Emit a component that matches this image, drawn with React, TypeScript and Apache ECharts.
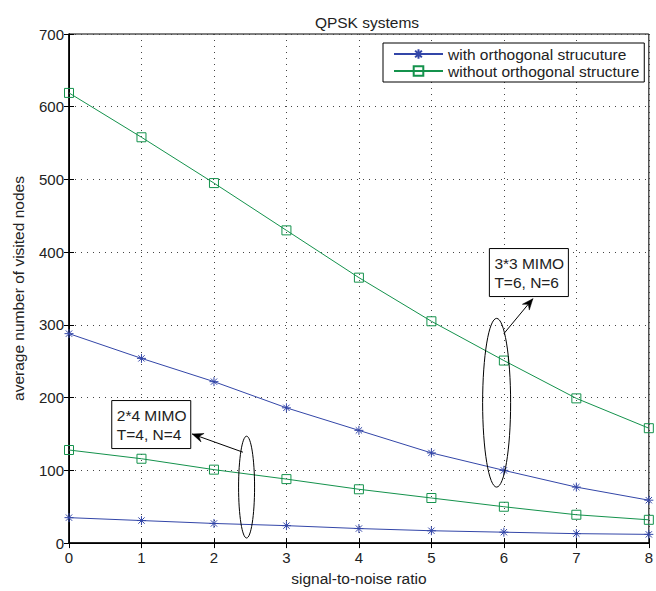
import React, { useEffect, useRef } from "react";
import * as echarts from "echarts";

const snr = [0, 1, 2, 3, 4, 5, 6, 7, 8];
const withOrth33 = [288, 254, 222, 186, 155, 124, 100, 77, 59];
const withoutOrth33 = [619, 558, 495, 430, 365, 305, 251, 199, 158];
const withOrth24 = [35, 31, 27, 24, 20, 17, 15, 13, 12];
const withoutOrth24 = [128, 116, 101, 88, 74, 62, 50, 39, 32];
const seriesNames = ["with orthogonal strucuture", "without orthogonal structure"];
const yTicks = [0, 100, 200, 300, 400, 500, 600, 700];

const BLUE = "#3346a8";
const GREEN = "#14924c";
const FONT = "Liberation Sans";
const STAR = "path://M5,0 L5,10 M0,5 L10,5 M1.5,1.5 L8.5,8.5 M1.5,8.5 L8.5,1.5";

function pairs(ys: number[]) {
  return snr.map((x, i) => [x, ys[i]]);
}

function lineSeries(name: string, ys: number[], color: string, star: boolean) {
  return {
    type: "line",
    name,
    data: pairs(ys),
    symbol: star ? STAR : "rect",
    symbolSize: 9,
    showSymbol: true,
    lineStyle: { color, width: 1 },
    itemStyle: { color: star ? color : "rgba(255,255,255,0)", borderColor: color, borderWidth: 1 },
    emphasis: { disabled: true },
  };
}

function arrowHead(from: number[], to: number[]) {
  const dx = to[0] - from[0];
  const dy = to[1] - from[1];
  const len = Math.hypot(dx, dy);
  const ux = dx / len;
  const uy = dy / len;
  const L = 11;
  const W = 4.5;
  const bx = to[0] - ux * L;
  const by = to[1] - uy * L;
  const nx = to[0] - ux * L * 0.65;
  const ny = to[1] - uy * L * 0.65;
  return [
    [to[0], to[1]],
    [bx - uy * W, by + ux * W],
    [nx, ny],
    [bx + uy * W, by - ux * W],
  ];
}

export default function App() {
  const ref = useRef<HTMLDivElement>(null);
  useEffect(() => {
    if (!ref.current) return;
    const chart = echarts.init(ref.current, undefined, { renderer: "svg" });
    const gridLine = { show: true, lineStyle: { color: "#444", width: 1, type: [1, 5] } };
    const tick = { show: true, inside: true, length: 5, lineStyle: { color: "#000" } };
    chart.setOption({
      animation: false,
      backgroundColor: "#fff",
      textStyle: { fontFamily: FONT },
      title: {
        text: "QPSK systems",
        left: 362,
        top: 9,
        textAlign: "center",
        textStyle: { fontFamily: FONT, fontSize: 15.5, fontWeight: "normal", color: "#222" },
      },
      legend: {
        data: seriesNames,
        orient: "vertical",
        left: 383,
        top: 43,
        padding: [3, 5, 3, 10],
        itemGap: 1,
        itemWidth: 49,
        itemHeight: 12,
        borderColor: "#000",
        borderWidth: 1,
        backgroundColor: "#fff",
        textStyle: { fontFamily: FONT, fontSize: 15.5, color: "#222", padding: [0, 0, 0, 0] },
        selectedMode: false,
      },
      grid: { left: 69, right: 2, top: 34, bottom: 39, show: true, borderColor: "#000", borderWidth: 1 },
      xAxis: [
        {
          type: "value",
          min: 0,
          max: 8,
          interval: 1,
          position: "bottom",
          name: "signal-to-noise ratio",
          nameLocation: "middle",
          nameGap: 22,
          nameTextStyle: { fontFamily: FONT, fontSize: 15.5, color: "#222" },
          axisLine: { show: true, lineStyle: { color: "#000", width: 1.5 } },
          axisTick: tick,
          axisLabel: { fontFamily: FONT, fontSize: 15, color: "#222", margin: 7 },
          splitLine: gridLine,
        },
        {
          type: "value",
          min: 0,
          max: 8,
          interval: 1,
          position: "top",
          axisLine: { show: true, lineStyle: { color: "#000" } },
          axisTick: tick,
          axisLabel: { show: false },
          splitLine: { show: false },
        },
      ],
      yAxis: [
        {
          type: "value",
          min: 0,
          max: 700,
          interval: 100,
          position: "left",
          name: "average number of visited nodes",
          nameLocation: "middle",
          nameGap: 43,
          nameTextStyle: { fontFamily: FONT, fontSize: 15.5, color: "#222" },
          axisLine: { show: true, lineStyle: { color: "#000", width: 1.5 } },
          axisTick: tick,
          axisLabel: {
            fontFamily: FONT,
            fontSize: 15,
            color: "#222",
            margin: 5,
            formatter: (v: number) => (yTicks.includes(v) ? String(v) : ""),
          },
          splitLine: gridLine,
        },
        {
          type: "value",
          min: 0,
          max: 700,
          interval: 100,
          position: "right",
          axisLine: { show: true, lineStyle: { color: "#000" } },
          axisTick: tick,
          axisLabel: { show: false },
          splitLine: { show: false },
        },
      ],
      series: [
        lineSeries(seriesNames[0], withOrth33, BLUE, true),
        lineSeries(seriesNames[1], withoutOrth33, GREEN, false),
        lineSeries(seriesNames[0], withOrth24, BLUE, true),
        lineSeries(seriesNames[1], withoutOrth24, GREEN, false),
      ],
    });

    const px = (x: number, y: number) => chart.convertToPixel({ gridIndex: 0 }, [x, y]) as number[];

    // annotation 1: 2*4 MIMO
    const e1 = px(2.45, 77);
    const e1top = px(2.45, 147);
    const ry1 = e1[1] - e1top[1];
    const a1from = px(2.4, 125);
    const a1to = px(1.7, 150);
    const b1 = px(0.59, 196);
    // annotation 2: 3*3 MIMO
    const e2 = px(5.9, 193);
    const e2top = px(5.9, 309);
    const ry2 = e2[1] - e2top[1];
    const a2from = px(6.0, 288);
    const a2to = px(6.4, 336);
    const b2 = px(5.8, 405);

    const ann = (b: number[], l1: string, l2: string) => [
      {
        type: "rect",
        shape: { x: b[0], y: b[1], width: 79, height: 48 },
        style: { fill: "#fff", stroke: "#000", lineWidth: 1 },
        z: 100,
      },
      {
        type: "text",
        x: b[0] + 5,
        y: b[1] + 5,
        style: { text: l1 + "\n" + l2, font: `15.5px ${FONT}`, fill: "#222", lineHeight: 19 },
        z: 101,
      },
    ];

    chart.setOption({
      graphic: [
        {
          type: "ellipse",
          shape: { cx: e1[0], cy: e1[1], rx: 8, ry: ry1 },
          style: { fill: "none", stroke: "#000", lineWidth: 1 },
          z: 100,
        },
        {
          type: "line",
          shape: { x1: a1from[0], y1: a1from[1], x2: a1to[0], y2: a1to[1] },
          style: { stroke: "#000", lineWidth: 1 },
          z: 100,
        },
        {
          type: "polygon",
          shape: { points: arrowHead(a1from, a1to) },
          style: { fill: "#000", stroke: "#000", lineWidth: 0.5 },
          z: 100,
        },
        ...ann(b1, "2*4 MIMO", "T=4, N=4"),
        {
          type: "ellipse",
          shape: { cx: e2[0], cy: e2[1], rx: 14, ry: ry2 },
          style: { fill: "none", stroke: "#000", lineWidth: 1 },
          z: 100,
        },
        {
          type: "line",
          shape: { x1: a2from[0], y1: a2from[1], x2: a2to[0], y2: a2to[1] },
          style: { stroke: "#000", lineWidth: 1 },
          z: 100,
        },
        {
          type: "polygon",
          shape: { points: arrowHead(a2from, a2to) },
          style: { fill: "#000", stroke: "#000", lineWidth: 0.5 },
          z: 100,
        },
        ...ann(b2, "3*3 MIMO", "T=6, N=6"),
      ],
    });

    return () => chart.dispose();
  }, []);
  return (
    <div
      ref={ref}
      style={{ position: "fixed", left: 0, top: 0, width: 656, height: 591, background: "#fff" }}
    />
  );
}
